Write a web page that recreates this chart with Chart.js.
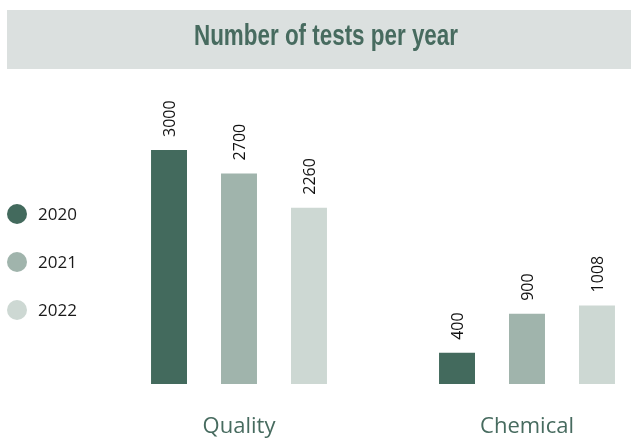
<!DOCTYPE html>
<html>
<head>
<meta charset="utf-8">
<script src="https://cdn.jsdelivr.net/npm/chart.js@4/dist/chart.umd.min.js"></script>
<style>
  html, body { margin: 0; padding: 0; background: #ffffff; overflow: hidden; }
  #wrap { position: relative; width: 631px; height: 440px; overflow: hidden; }
  canvas { display: block; position: absolute; left: -19px; top: 0; }
</style>
</head>
<body>
<div id="wrap"><canvas id="c" width="690" height="440"></canvas></div>
<script>
const categories = ['Quality', 'Chemical'];
const years = ['2020', '2021', '2022'];
const values2020 = [3000, 400];
const values2021 = [2700, 900];
const values2022 = [2260, 1008];
const titleText = 'Number of tests per year';

const barColors = ['#436a5d', '#a0b4ac', '#cdd8d3'];
const seriesValues = [values2020, values2021, values2022];
const OX = 19; // canvas offset relative to page

const bannerPlugin = {
  id: 'banner',
  beforeDraw(chart) {
    const ctx = chart.ctx;
    ctx.save();
    ctx.fillStyle = '#dbe0df';
    ctx.fillRect(7 + OX, 10, chart.width, 59);
    ctx.font = 'bold 30px "Liberation Sans", Arial, sans-serif';
    const w = ctx.measureText(titleText).width;
    const sx = 264 / w;
    ctx.translate(326 + OX, 37);
    ctx.scale(sx, 1);
    ctx.fillStyle = '#476b5f';
    ctx.textAlign = 'center';
    ctx.textBaseline = 'middle';
    ctx.fillText(titleText, 0, 0);
    ctx.restore();
  }
};

const sideLegend = {
  id: 'sideLegend',
  afterDraw(chart) {
    const ctx = chart.ctx;
    ctx.save();
    chart.data.datasets.forEach((ds, i) => {
      const cy = 214 + 48 * i;
      ctx.beginPath();
      ctx.arc(17 + OX, cy, 10, 0, Math.PI * 2);
      ctx.fillStyle = ds.backgroundColor;
      ctx.fill();
      ctx.fillStyle = '#1a1a1a';
      ctx.font = '17px "Open Sans", sans-serif';
      ctx.textAlign = 'left';
      ctx.textBaseline = 'middle';
      ctx.fillText(ds.label, 38 + OX, cy + 1);
    });
    ctx.restore();
  }
};

const valueLabels = {
  id: 'valueLabels',
  afterDatasetsDraw(chart) {
    const ctx = chart.ctx;
    ctx.save();
    ctx.fillStyle = '#111111';
    ctx.font = '16px "Open Sans", sans-serif';
    ctx.textAlign = 'left';
    ctx.textBaseline = 'middle';
    chart.data.datasets.forEach((ds, di) => {
      const meta = chart.getDatasetMeta(di);
      meta.data.forEach((bar, j) => {
        ctx.save();
        ctx.translate(bar.x + 1, bar.y - 13);
        ctx.rotate(-Math.PI / 2);
        ctx.fillText(String(ds.data[j]), 0, 0);
        ctx.restore();
      });
    });
    ctx.restore();
  }
};

new Chart(document.getElementById('c'), {
  type: 'bar',
  data: {
    labels: categories,
    datasets: years.map((y, i) => ({
      label: y,
      data: seriesValues[i],
      backgroundColor: barColors[i],
      borderWidth: 0,
      categoryPercentage: 0.729,
      barPercentage: 0.514
    }))
  },
  options: {
    responsive: false,
    animation: false,
    devicePixelRatio: 1,
    layout: { padding: { left: 0, right: 0, top: 111, bottom: 0 } },
    plugins: {
      legend: { display: false },
      tooltip: { enabled: false },
      title: { display: false }
    },
    scales: {
      x: {
        grid: { display: false, drawTicks: false },
        border: { display: false },
        ticks: {
          color: '#476b5f',
          maxRotation: 0,
          font: { family: '"Open Sans", sans-serif', size: 22, lineHeight: 1.2 },
          padding: 30
        },
        afterFit(scale) { scale.height = 56; }
      },
      y: {
        min: 0,
        max: 3500,
        display: true,
        grid: { display: false, drawTicks: false },
        border: { display: false },
        ticks: { display: false },
        afterFit(scale) { scale.width = 114; }
      }
    }
  },
  plugins: [bannerPlugin, sideLegend, valueLabels]
});
</script>
</body>
</html>
